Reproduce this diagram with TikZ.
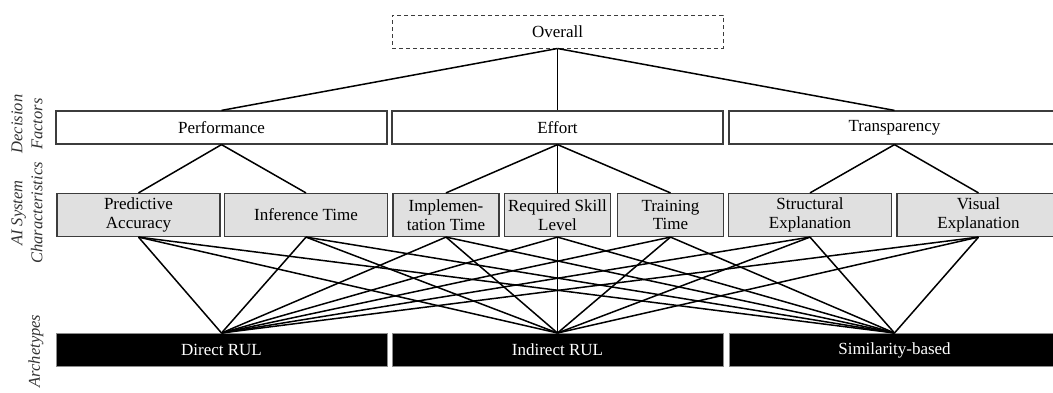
\documentclass[tikz,border=0pt]{standalone}
\usepackage{fontspec}
\setmainfont{Liberation Serif}
\usepackage{tikz}
\usetikzlibrary{positioning}
\definecolor{charfill}{HTML}{E0E0E0}
\definecolor{boxline}{HTML}{3C3C3C}
\tikzset{
  boxTop/.style={ draw=boxline, line width=1pt, dash pattern=on 4pt off 3pt, minimum width=331pt, minimum height=33pt, inner sep=0pt }
}
\tikzset{
  boxFactor/.style={ draw=boxline, line width=1.2pt, minimum width=331pt, minimum height=33pt, inner sep=0pt }
}
\tikzset{
  boxCharW/.style={ draw=boxline, line width=1.2pt, fill=charfill, minimum width=163pt, minimum height=43pt, inner sep=0pt, align=center }
}
\tikzset{
  boxCharN/.style={ draw=boxline, line width=1.2pt, fill=charfill, minimum width=106pt, minimum height=43pt, inner sep=0pt, align=center }
}
\tikzset{
  boxArch/.style={ draw=black!45, line width=1pt, fill=black, text=white, minimum width=331pt, minimum height=33pt, inner sep=0pt }
}
\tikzset{
  sideLbl/.style={ rotate=90, align=center, text=black!80, font=\fontsize{16.5}{20}\selectfont\itshape }
}

\begin{document}
\begin{tikzpicture}[x=1pt, y=-1pt, font=\fontsize{17}{18.5}\selectfont]
      \clip (0, 0) rectangle (1053, 392);

      % side labels
      \node[sideLbl] (lblFactors) at (27, 124) {Decision\\Factors};
      \node[sideLbl] (lblChars) at (27, 213) {AI System\\Characteristics};
      \node[sideLbl] (lblArch) at (36, 351) {Archetypes};

      \node[boxTop] (overall) at (557.5, 31.5) {Overall};

      \node[boxFactor] (perf) at (221.5, 127.5) {Performance};
      \node[boxFactor] (effort) at (557.5, 127.5) {Effort};
      \node[boxFactor] (transp) at (894.5, 127.5) {Transparency};

      \node[boxCharW] (predacc) at (138.5, 215) {Predictive\\Accuracy};
      \node[boxCharW] (inftime) at (306, 215) {Inference Time};
      \node[boxCharN] (impltime) at (446, 215) {Implemen-\\tation Time};
      \node[boxCharN] (skill) at (557.5, 215) {Required Skill\\Level};
      \node[boxCharN] (traintime) at (670.5, 215) {Training\\Time};
      \node[boxCharW] (structexp) at (810, 215) {Structural\\Explanation};
      \node[boxCharW] (visexp) at (978.5, 215) {Visual\\Explanation};

      \node[boxArch] (direct) at (221.5, 350) {Direct RUL};
      \node[boxArch] (indirect) at (557.5, 350) {Indirect RUL};
      \node[boxArch] (simil) at (894.5, 350) {Similarity-based};

      \begin{scope}[line width=1.5pt]
        \draw (overall.south) -- (perf.north);
        \draw (overall.south) -- (effort.north);
        \draw (overall.south) -- (transp.north);

        \draw (perf.south) -- (predacc.north);
        \draw (perf.south) -- (inftime.north);
        \draw (effort.south) -- (impltime.north);
        \draw (effort.south) -- (skill.north);
        \draw (effort.south) -- (traintime.north);
        \draw (transp.south) -- (structexp.north);
        \draw (transp.south) -- (visexp.north);

        % every characteristic feeds every archetype
        \foreach \c in {predacc, inftime, impltime, skill, traintime, structexp, visexp}
          \foreach \a in {direct, indirect, simil}
            \draw (\c.south) -- (\a.north);
      \end{scope}
    \end{tikzpicture}
\end{document}
